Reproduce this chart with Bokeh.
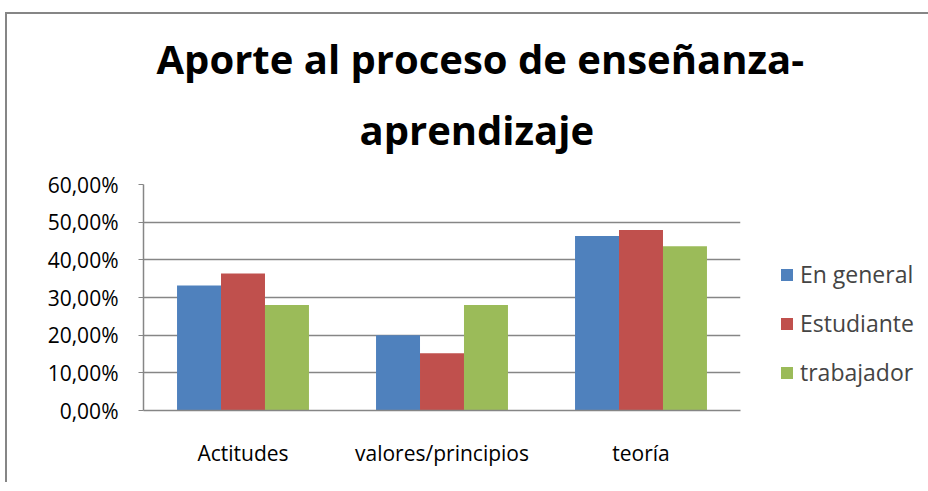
from bokeh.plotting import figure
from bokeh.models import FactorRange, Title, Legend, LegendItem, CustomJSTickFormatter, FixedTicker, ColumnDataSource
from bokeh.transform import dodge
from bokeh.embed import file_html
from bokeh.resources import INLINE

categories = ["Actitudes", "valores/principios", "teoría"]
series_names = ["En general", "Estudiante", "trabajador"]
en_general = [0.332, 0.200, 0.463]
estudiante = [0.364, 0.152, 0.479]
trabajador = [0.280, 0.280, 0.436]
colors = ["#4F81BD", "#C0504D", "#9BBB59"]
y_ticks = [0.0, 0.1, 0.2, 0.3, 0.4, 0.5, 0.6]
title_line1 = "Aporte al proceso de enseñanza-"
title_line2 = "aprendizaje"

src = ColumnDataSource(dict(cat=categories, g=en_general, e=estudiante, t=trabajador))

p = figure(x_range=FactorRange(*categories), y_range=(0, 0.6),
           output_backend="svg", toolbar_location=None,
           frame_width=597, frame_height=226,
           min_border_left=136, min_border_right=10, min_border_top=170, min_border_bottom=72)

bw = 0.221
r1 = p.vbar(x=dodge("cat", -bw, range=p.x_range), top="g", width=bw, bottom=0, source=src, color=colors[0], line_color=None)
r2 = p.vbar(x=dodge("cat", 0, range=p.x_range), top="e", width=bw, bottom=0, source=src, color=colors[1], line_color=None)
r3 = p.vbar(x=dodge("cat", bw, range=p.x_range), top="t", width=bw, bottom=0, source=src, color=colors[2], line_color=None)

p.title.text = title_line1
p.title.text_font = "Open Sans"
p.title.text_font_style = "bold"
p.title.text_font_size = "40px"
p.title.text_color = "#000000"
p.title.align = "left"
p.title.offset = 13
p.title.standoff = -29
t2 = Title(text=title_line2, text_font="Open Sans", text_font_style="bold", text_color="#000000",
           text_font_size="40px", align="left", offset=216, standoff=56)
p.add_layout(t2, "above")

p.yaxis.ticker = FixedTicker(ticks=y_ticks)
p.yaxis.formatter = CustomJSTickFormatter(code="return (tick*100).toFixed(2).replace('.', ',') + '%';")
for ax in (p.xaxis[0], p.yaxis[0]):
    ax.axis_line_color = "#868686"
    ax.axis_line_width = 1.5
    ax.major_tick_line_color = "#868686"
    ax.minor_tick_line_color = None
    ax.major_label_text_font = "Open Sans"
    ax.major_label_text_font_size = "21px"
    ax.major_label_text_color = "#000000"
p.yaxis.major_tick_out = 5
p.yaxis.major_tick_in = 0
p.yaxis.major_label_standoff = 20
p.xaxis.major_tick_line_color = None
p.xaxis.major_label_standoff = 22
p.xgrid.grid_line_color = None
p.ygrid.grid_line_color = "#868686"
p.ygrid.grid_line_width = 1.5
p.outline_line_color = None

legend = Legend(items=[LegendItem(label=series_names[0], renderers=[r1]),
                       LegendItem(label=series_names[1], renderers=[r2]),
                       LegendItem(label=series_names[2], renderers=[r3])],
                location=(39, 22), label_text_font="Open Sans", label_text_font_size="23px",
                glyph_width=15, glyph_height=15, label_height=24, spacing=17,
                border_line_color=None, background_fill_alpha=0, margin=0, padding=6, label_standoff=6)
p.add_layout(legend, "right")

p.styles = {"border-top": "2px solid #868686", "border-left": "2px solid #868686",
            "margin-top": "12px", "margin-left": "5px"}

open("out.html", "w").write(file_html(p, INLINE))
